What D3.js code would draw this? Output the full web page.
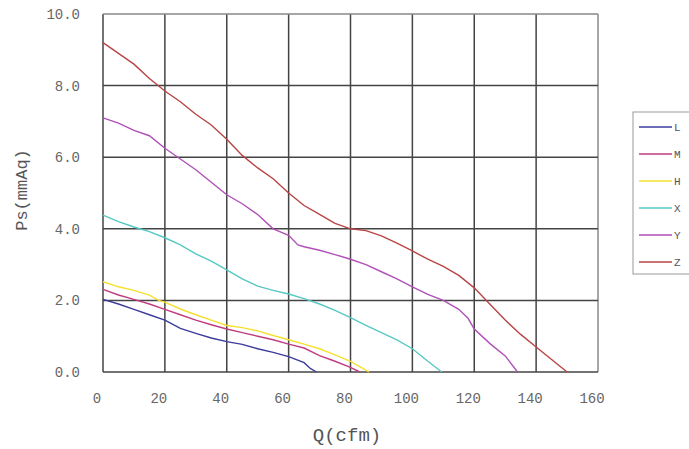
<!DOCTYPE html>
<html><head><meta charset="utf-8">
<script src="https://d3js.org/d3.v7.min.js"></script>
<style>body{margin:0;background:#fff}svg{display:block}</style>
</head><body><svg id="c" width="689" height="449"></svg>
<script>
const seriesNames = ["L","M","H","X","Y","Z"];
const seriesColors = ["#3c3c9c","#c03c80","#f5e030","#55c8c4","#b050b8","#b84444"];
const xTicks = [0,20,40,60,80,100,120,140,160];
const yTicks = [0,2,4,6,8,10];
const L = [[0,2.03],[5,1.9],[10,1.75],[15,1.6],[20,1.45],[25,1.22],[30,1.08],[35,0.95],[40,0.85],[45,0.77],[50,0.65],[55,0.55],[60,0.43],[65,0.26],[67,0.1],[69,0]];
const M = [[0,2.31],[5,2.15],[10,2.03],[15,1.9],[20,1.75],[25,1.6],[30,1.45],[35,1.32],[40,1.2],[45,1.1],[50,1.0],[55,0.9],[60,0.78],[65,0.67],[70,0.46],[75,0.3],[80,0.13],[83,0]];
const H = [[0,2.52],[5,2.38],[10,2.28],[15,2.15],[18,2.0],[20,1.95],[25,1.76],[30,1.6],[35,1.45],[40,1.3],[45,1.24],[50,1.15],[55,1.02],[60,0.9],[65,0.78],[70,0.65],[75,0.48],[80,0.3],[83,0.15],[86,0]];
const X = [[0,4.38],[5,4.2],[10,4.05],[15,3.92],[20,3.75],[25,3.55],[30,3.3],[35,3.1],[40,2.85],[45,2.6],[50,2.4],[55,2.28],[60,2.18],[65,2.05],[70,1.9],[75,1.72],[80,1.52],[85,1.3],[90,1.1],[95,0.9],[100,0.65],[105,0.3],[109.5,0]];
const Y = [[0,7.1],[5,6.95],[10,6.75],[15,6.6],[20,6.25],[25,5.95],[30,5.65],[35,5.3],[40,4.95],[45,4.7],[50,4.4],[55,4.0],[60,3.82],[63,3.55],[65,3.5],[70,3.4],[75,3.28],[80,3.15],[85,3.0],[90,2.8],[95,2.6],[100,2.38],[105,2.17],[110,2.0],[115,1.75],[118,1.5],[120,1.2],[125,0.8],[130,0.45],[134,0]];
const Z = [[0,9.2],[5,8.9],[10,8.6],[15,8.2],[20,7.85],[25,7.55],[30,7.2],[35,6.9],[40,6.5],[45,6.05],[50,5.7],[55,5.4],[60,5.0],[65,4.65],[70,4.4],[75,4.15],[80,4.0],[85,3.95],[90,3.8],[95,3.6],[100,3.38],[105,3.15],[110,2.95],[115,2.7],[120,2.35],[125,1.9],[130,1.45],[135,1.05],[140,0.7],[145,0.35],[150,0]];
const seriesData = [L,M,H,X,Y,Z];

(function(){
const svg = d3.select("#c");
const pl=103, pr=598, pt=14, pb=372;
const x = d3.scaleLinear().domain([0,160]).range([pl,pr]);
const y = d3.scaleLinear().domain([0,10]).range([pb,pt]);
const font = "'Liberation Mono', 'Courier New', monospace";

const g = svg.append("g");
g.selectAll(".vx").data(xTicks).enter().append("line")
  .attr("x1",d=>x(d)).attr("x2",d=>x(d)).attr("y1",pt).attr("y2",pb)
  .attr("stroke",d=>d===160?"#888":"#444").attr("stroke-width",1.5);
g.selectAll(".hy").data(yTicks).enter().append("line")
  .attr("x1",pl).attr("x2",pr).attr("y1",d=>y(d)).attr("y2",d=>y(d))
  .attr("stroke",d=>d===10?"#888":"#444").attr("stroke-width",1.5);

svg.selectAll(".xt").data(xTicks).enter().append("text")
  .attr("x",d=>x(d)-6).attr("y",403).attr("text-anchor","middle")
  .attr("font-family",font).attr("font-size",14).attr("fill","#666").text(d=>d);
svg.selectAll(".yt").data(yTicks).enter().append("text")
  .attr("x",80).attr("y",d=>y(d)+5).attr("text-anchor","end")
  .attr("font-family",font).attr("font-size",14).attr("fill","#666").text(d=>d.toFixed(1));

svg.append("text").attr("x",347).attr("y",441).attr("text-anchor","middle")
  .attr("font-family",font).attr("font-size",19).attr("fill","#555").text("Q(cfm)");
svg.append("text").attr("transform","translate(27,190) rotate(-90)").attr("text-anchor","middle")
  .attr("font-family",font).attr("font-size",17).attr("fill","#555").text("Ps(mmAq)");

const line = d3.line().x(d=>x(d[0])).y(d=>y(d[1]));
svg.selectAll(".ln").data(seriesData).enter().append("path")
  .attr("d",line).attr("fill","none")
  .attr("stroke",(d,i)=>seriesColors[i]).attr("stroke-width",1.4);

const lg = svg.append("g");
lg.append("rect").attr("x",633).attr("y",112).attr("width",60).attr("height",162)
  .attr("fill","#fff").attr("stroke","#999").attr("stroke-width",1);
seriesNames.forEach((n,i)=>{
  const yy = 127 + i*27;
  lg.append("line").attr("x1",639).attr("x2",672).attr("y1",yy).attr("y2",yy)
    .attr("stroke",seriesColors[i]).attr("stroke-width",1.4);
  lg.append("text").attr("x",674).attr("y",yy+4).attr("font-family",font)
    .attr("font-size",11).attr("fill","#555").text(n);
});
})();
</script></body></html>
